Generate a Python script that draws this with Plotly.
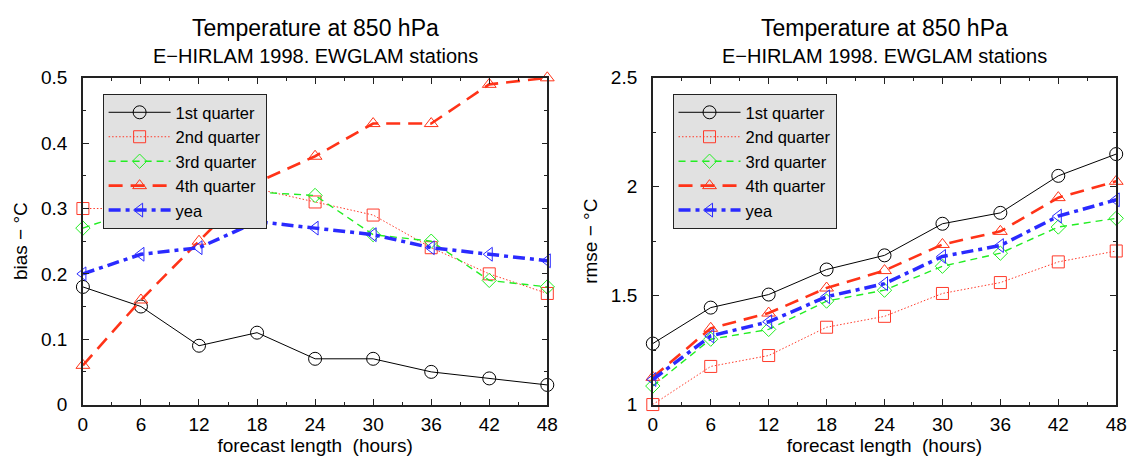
import plotly.graph_objects as go

hours = [0, 6, 12, 18, 24, 30, 36, 42, 48]
series_names = ["1st quarter", "2nd quarter", "3rd quarter", "4th quarter", "yea"]

bias_q1 = [0.18, 0.15, 0.09, 0.11, 0.07, 0.07, 0.05, 0.04, 0.03]
bias_q2 = [0.30, 0.30, 0.30, 0.33, 0.31, 0.29, 0.24, 0.20, 0.17]
bias_q3 = [0.27, 0.30, 0.32, 0.325, 0.32, 0.26, 0.25, 0.19, 0.18]
bias_q4 = [0.06, 0.16, 0.25, 0.34, 0.38, 0.43, 0.43, 0.49, 0.50]
bias_yea = [0.20, 0.23, 0.24, 0.28, 0.27, 0.26, 0.24, 0.23, 0.22]

rmse_q1 = [1.28, 1.445, 1.505, 1.62, 1.685, 1.83, 1.88, 2.05, 2.15]
rmse_q2 = [1.00, 1.175, 1.225, 1.355, 1.405, 1.51, 1.56, 1.655, 1.705]
rmse_q3 = [1.085, 1.30, 1.345, 1.475, 1.525, 1.635, 1.695, 1.815, 1.855]
rmse_q4 = [1.125, 1.35, 1.42, 1.535, 1.615, 1.735, 1.795, 1.95, 2.025]
rmse_yea = [1.115, 1.315, 1.38, 1.495, 1.555, 1.68, 1.73, 1.865, 1.94]

title_text = "Temperature at 850 hPa"
subtitle_text = "E\u2212HIRLAM 1998. EWGLAM stations"
xtitle = "forecast length\u00a0\u00a0(hours)"
ytitle_left = "bias \u2212 \u00b0C"
ytitle_right = "rmse \u2212 \u00b0C"

FONT = "Liberation Sans, Arial, sans-serif"

styles = [
    dict(color="#000000", width=1.0, dash="solid", symbol="circle-open", size=13),
    dict(color="#ff3a2a", width=1.0, dash="1.5px,2px", symbol="square-open", size=12),
    dict(color="#22ee22", width=1.4, dash="7px,5px", symbol="diamond-open", size=11),
    dict(color="#ff3318", width=2.6, dash="14px,8px", symbol="triangle-up-open", size=12),
    dict(color="#2a2aff", width=3.5, dash="12px,5px,4px,5px", symbol="triangle-left-open", size=12),
]

fig = go.Figure()

left_data = [bias_q1, bias_q2, bias_q3, bias_q4, bias_yea]
right_data = [rmse_q1, rmse_q2, rmse_q3, rmse_q4, rmse_yea]

for name, ys, st in zip(series_names, left_data, styles):
    fig.add_trace(go.Scatter(
        x=hours, y=ys, name=name, mode="lines+markers",
        line=dict(color=st["color"], width=st["width"], dash=st["dash"]),
        marker=dict(symbol=st["symbol"], size=st["size"], color=st["color"],
                    line=dict(width=1, color=st["color"])),
        cliponaxis=False, xaxis="x", yaxis="y", legend="legend",
    ))

for name, ys, st in zip(series_names, right_data, styles):
    fig.add_trace(go.Scatter(
        x=hours, y=ys, name=name, mode="lines+markers",
        line=dict(color=st["color"], width=st["width"], dash=st["dash"]),
        marker=dict(symbol=st["symbol"], size=st["size"], color=st["color"],
                    line=dict(width=1, color=st["color"])),
        cliponaxis=False, xaxis="x2", yaxis="y2", legend="legend2",
    ))

W, H = 1143, 470
def px(x):
    return x / W
def py(y):
    return 1 - y / H

axis_common = dict(
    showline=True, mirror="ticks", linecolor="#222", linewidth=1.5,
    ticks="inside", ticklen=6, tickcolor="#222", tickwidth=1.2,
    showgrid=False, zeroline=False,
    tickfont=dict(family=FONT, size=19, color="#000"),
)

xcommon = dict(axis_common, range=[0, 48], tickmode="array", tickvals=hours,
               minor=dict(ticks="inside", ticklen=3, dtick=3, tickcolor="#222", showgrid=False),
               ticklabelstandoff=2,
               title=dict(text=xtitle, font=dict(family=FONT, size=19, color="#000"), standoff=4))

legend_common = dict(xanchor="left", yanchor="top",
                     bgcolor="#e1e1e1", bordercolor="#222", borderwidth=1,
                     font=dict(family=FONT, size=16.5, color="#000"), itemwidth=62,
                     tracegroupgap=0)

fig.update_layout(
    width=W, height=H,
    margin=dict(l=0, r=0, t=0, b=0),
    paper_bgcolor="white", plot_bgcolor="white",
    font=dict(family=FONT, color="#000"),
    showlegend=True,
    xaxis=dict(xcommon, domain=[px(79), px(550)], anchor="y"),
    yaxis=dict(axis_common, domain=[py(413), py(71)], anchor="x", range=[0, 0.5], dtick=0.1,
               tick0=0, minor=dict(ticks="inside", ticklen=3.5, dtick=0.05, tickcolor="#222", showgrid=False),
               ticklabelstandoff=10,
               title=dict(text=ytitle_left, font=dict(family=FONT, size=19, color="#000"), standoff=8)),
    xaxis2=dict(xcommon, domain=[px(657), px(1127)], anchor="y2"),
    yaxis2=dict(axis_common, domain=[py(413), py(71)], anchor="x2", range=[1, 2.5], dtick=0.5,
                tick0=0, minor=dict(ticks="inside", ticklen=3.5, dtick=0.25, tickcolor="#222", showgrid=False),
                ticklabelstandoff=10,
                title=dict(text=ytitle_right, font=dict(family=FONT, size=19, color="#000"), standoff=8)),
    legend=dict(legend_common, x=px(99), y=py(88)),
    legend2=dict(legend_common, x=px(677), y=py(88)),
)

for cx in [(79 + 550) / 2, (657 + 1127) / 2]:
    fig.add_annotation(x=px(cx), y=py(19), xref="paper", yref="paper", text=title_text,
                       showarrow=False, xanchor="center", yanchor="middle",
                       font=dict(family=FONT, size=23, color="#000"))
    fig.add_annotation(x=px(cx), y=py(48), xref="paper", yref="paper", text=subtitle_text,
                       showarrow=False, xanchor="center", yanchor="middle",
                       font=dict(family=FONT, size=20, color="#000"))

fig.write_html("out.html", config={"displayModeBar": False},
               post_script="document.body.style.margin='0';")
